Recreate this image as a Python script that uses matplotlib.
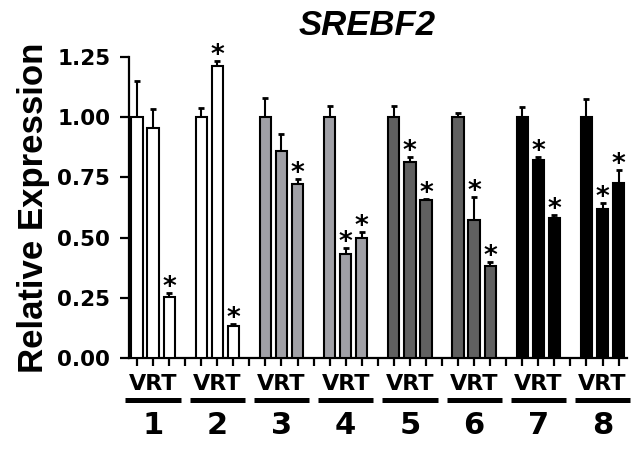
import matplotlib
matplotlib.use("Agg")
import matplotlib.pyplot as plt
import numpy as np

# data: 8 groups, 3 bars each (V, R, T)
groups = ["1", "2", "3", "4", "5", "6", "7", "8"]
bar_labels = "VRT"
means = [
    [1.00, 0.955, 0.255],
    [1.00, 1.213, 0.134],
    [1.00, 0.861, 0.721],
    [1.00, 0.432, 0.500],
    [1.00, 0.814, 0.656],
    [1.00, 0.573, 0.382],
    [1.00, 0.822, 0.580],
    [1.00, 0.620, 0.728],
]
errs = [
    [0.150, 0.079, 0.016],
    [0.039, 0.022, 0.008],
    [0.081, 0.069, 0.021],
    [0.048, 0.024, 0.025],
    [0.048, 0.022, 0.004],
    [0.016, 0.094, 0.015],
    [0.041, 0.014, 0.014],
    [0.074, 0.025, 0.053],
]
signif = [
    [False, False, True],
    [False, True, True],
    [False, False, True],
    [False, True, True],
    [False, True, True],
    [False, True, True],
    [False, True, True],
    [False, True, True],
]
group_colors = ["white", "white", "#a0a0a6", "#a0a0a6",
                "#606060", "#606060", "black", "black"]
yticks = [0.00, 0.25, 0.50, 0.75, 1.00, 1.25]

bold = dict(family="DejaVu Sans", weight="bold")

fig = plt.figure(figsize=(6.37, 4.55), dpi=100)
ax = fig.add_axes([129 / 637, 1 - 358 / 455, 497.6 / 637, 301 / 455])

for g in range(len(groups)):
    xs = g * 4 + np.arange(3)
    ax.bar(xs, means[g], width=0.7, color=group_colors[g], edgecolor="black",
           linewidth=1.5, zorder=3)
    ax.errorbar(xs, means[g], yerr=[np.zeros(3), errs[g]], fmt="none",
                ecolor="black", elinewidth=1.5, capsize=2.5, capthick=2.0,
                zorder=2)
    for i in range(3):
        if signif[g][i]:
            ax.annotate("*", xy=(xs[i], means[g][i] + errs[g][i]),
                        xytext=(0, -1.5), textcoords="offset points",
                        ha="center", va="baseline", fontsize=19, **bold)

    # group labels below the axis
    cx = g * 4 + 1
    trans = ax.get_xaxis_transform()
    ax.text(cx, -0.0864, bar_labels, transform=trans, ha="center",
            va="center", fontsize=16, **bold)
    ax.plot([cx - 1.72, cx + 1.72], [-0.1395, -0.1395], transform=trans,
            color="black", lw=3.6, solid_capstyle="butt", clip_on=False)
    ax.text(cx, -0.2226, groups[g], transform=trans, ha="center",
            va="center", fontsize=22, **bold)

ax.set_xlim(-0.5, 30.5)
ax.set_ylim(0, 1.25)
ax.set_xticks(np.arange(31))
ax.set_xticklabels([])
ax.set_yticks(yticks)
ax.set_yticklabels([f"{t:.2f}" for t in yticks], fontsize=15.5, **bold)

ax.spines["top"].set_visible(False)
ax.spines["right"].set_visible(False)
ax.spines["left"].set_linewidth(1.6)
ax.spines["bottom"].set_linewidth(1.6)
ax.tick_params(axis="y", direction="out", length=6.5, width=1.6, pad=7)
ax.tick_params(axis="x", direction="out", length=5.8, width=1.6)

ax.set_ylabel("Relative Expression", family="Liberation Sans",
              weight="bold", fontsize=25)
ax.yaxis.set_label_coords(-0.159, 0.5)

fig.text(367 / 637, 1 - 25.5 / 455, "SREBF2", ha="center", va="center",
         fontsize=25, family="Liberation Sans", weight="bold", style="italic")

fig.savefig("out.png", dpi=100)
